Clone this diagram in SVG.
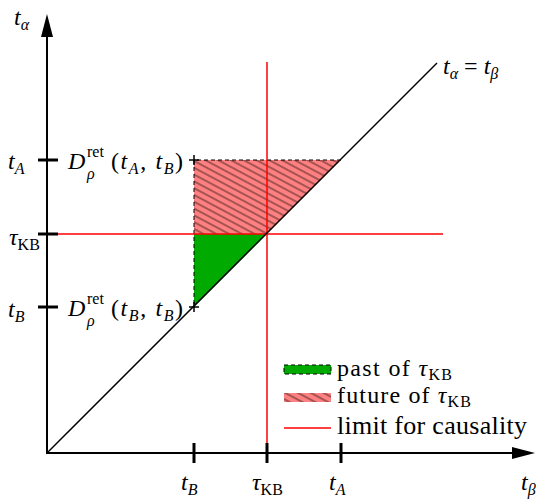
<svg xmlns="http://www.w3.org/2000/svg" width="543" height="502" viewBox="0 0 543 502">
<style>
text{font-family:"Liberation Serif",serif;font-size:24px;fill:#000}
.i{font-style:italic}
.s{font-size:16px}
.ax{stroke:#000;stroke-width:2;fill:none}
.tk{stroke:#000;stroke-width:3}
.red{stroke:#ff0000;stroke-width:1.5;fill:none}
.dash{stroke:#000;stroke-width:1;stroke-dasharray:4,3;fill:none}
</style>
<defs>
<pattern id="hatch" patternUnits="userSpaceOnUse" width="6" height="6" patternTransform="rotate(28)">
<rect width="6" height="6" fill="#ff8080"/>
<line x1="0" y1="3" x2="6" y2="3" stroke="#000" stroke-width="0.7"/>
</pattern>
</defs>
<g id="regions">
<polygon id="future" points="194,160 341,160 267,234 194,234" fill="url(#hatch)"/>
<polygon id="past" points="194,234 267,234 194,307" fill="#00aa00"/>
<polyline class="dash" points="341,160 194,160 194,307"/>
</g>
<g id="connectors">
<line class="red" x1="58" y1="234" x2="443" y2="234"/>
<line class="red" x1="267" y1="62" x2="267" y2="453"/>
<line stroke="#000" stroke-width="1.5" x1="47" y1="453" x2="437" y2="63"/>
<line class="ax" x1="47" y1="454" x2="47" y2="35"/>
<polygon points="47,14 41,37 53,37" fill="#000"/>
<line class="ax" x1="46" y1="453" x2="515" y2="453"/>
<polygon points="535,453 512,447 512,459" fill="#000"/>
<line class="tk" x1="38" y1="160" x2="58" y2="160"/>
<line class="tk" x1="38" y1="234" x2="58" y2="234"/>
<line class="tk" x1="38" y1="307" x2="58" y2="307"/>
<line class="tk" x1="194" y1="443" x2="194" y2="463"/>
<line class="tk" x1="267" y1="443" x2="267" y2="463"/>
<line class="tk" x1="341" y1="443" x2="341" y2="463"/>
<path d="M189,160 h10 M194,155 v10 M189,307 h10 M194,302 v10" stroke="#000" stroke-width="1.5"/>
</g>
<g id="labels">
<text x="14" y="25"><tspan class="i">t</tspan><tspan class="i s" dy="5">α</tspan></text>
<text x="443" y="74"><tspan class="i">t</tspan><tspan class="i s" dy="5">α</tspan><tspan dy="-5"> = </tspan><tspan class="i">t</tspan><tspan class="i s" dy="5">β</tspan></text>
<text x="8" y="169"><tspan class="i">t</tspan><tspan class="i s" dy="5">A</tspan></text>
<text x="9" y="245"><tspan class="i">τ</tspan><tspan class="s" dy="5">KB</tspan></text>
<text x="8" y="317"><tspan class="i">t</tspan><tspan class="i s" dy="5">B</tspan></text>
<text x="68" y="169"><tspan class="i">D</tspan></text>
<text x="87" y="157" class="s">ret</text>
<text x="87" y="179" class="s i">ρ</text>
<text x="111" y="169" textLength="72">(<tspan class="i">t</tspan><tspan class="i s" dy="5">A</tspan><tspan dy="-5">, </tspan><tspan class="i">t</tspan><tspan class="i s" dy="5">B</tspan><tspan dy="-5">)</tspan></text>
<text x="68" y="316"><tspan class="i">D</tspan></text>
<text x="87" y="304" class="s">ret</text>
<text x="87" y="326" class="s i">ρ</text>
<text x="111" y="316" textLength="72">(<tspan class="i">t</tspan><tspan class="i s" dy="5">B</tspan><tspan dy="-5">, </tspan><tspan class="i">t</tspan><tspan class="i s" dy="5">B</tspan><tspan dy="-5">)</tspan></text>
<text x="181" y="490"><tspan class="i">t</tspan><tspan class="i s" dy="5">B</tspan></text>
<text x="252" y="490"><tspan class="i">τ</tspan><tspan class="s" dy="5">KB</tspan></text>
<text x="329" y="490"><tspan class="i">t</tspan><tspan class="i s" dy="5">A</tspan></text>
<text x="521" y="490"><tspan class="i">t</tspan><tspan class="i s" dy="5">β</tspan></text>
</g>
<g id="legend">
<rect x="284" y="365" width="47" height="9" fill="#00aa00" stroke="#000" stroke-width="1" stroke-dasharray="4,3"/>
<rect x="284" y="393" width="47" height="9" fill="url(#hatch)"/>
<line class="red" x1="284" y1="428" x2="331" y2="428"/>
<text x="337" y="376" textLength="115">past of <tspan class="i">τ</tspan><tspan class="s" dy="4">KB</tspan></text>
<text x="337" y="403" textLength="134">future of <tspan class="i">τ</tspan><tspan class="s" dy="4">KB</tspan></text>
<text x="337" y="434" style="font-size:26px" textLength="190">limit for causality</text>
</g>
</svg>
